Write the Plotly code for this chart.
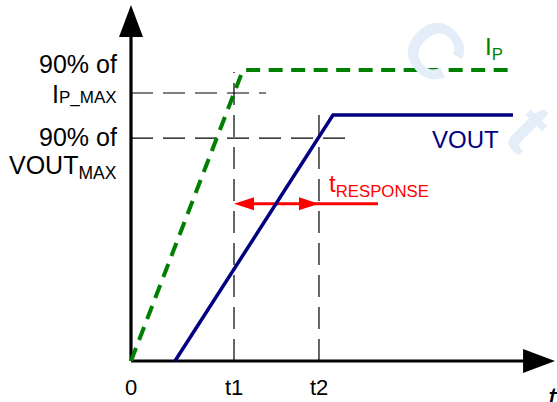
import plotly.graph_objects as go

# ---------------- data ----------------
# time in units of t1, amplitude in % of IP_MAX
ip_t = [0.0, 1.087, 3.709]
ip_v = [0.0, 100.0, 100.0]
vout_t = [0.427, 1.961, 3.709]
vout_v = [0.0, 84.5, 84.5]
t1 = 1.0
t2 = 1.825
ip90 = 92.1
vout90 = 76.6
resp_level = 54.0
resp_tail_end = 2.398
ip90_line_end = 1.311
vout90_line_end = 2.097
t1_line_top = 99.3
t2_line_top = 84.5
x_axis_end = 4.117
y_axis_end = 122.3
tick_vals = [0.0, t1, t2]
tick_text = ["0", "t1", "t2"]

# ---------------- geometry ----------------
W, H = 557, 402
OX, OY = 131, 361          # origin in pixels
SX, SY = 103.0, 2.91       # pixels per data unit
x_range = [-OX / SX, (W - OX) / SX]
y_range = [-(H - OY) / SY, OY / SY]

def dx(px):
    return px / SX

def dy(px):
    return px / SY

FONT = "Liberation Sans, Arial, sans-serif"
GREEN = "#008000"
NAVY = "#000080"
RED = "#ff0000"
WATER = "#e4eef9"

fig = go.Figure()

def line(xs, ys, color, width, dash="solid"):
    fig.add_trace(go.Scatter(x=xs, y=ys, mode="lines",
                             line=dict(color=color, width=width, dash=dash),
                             hoverinfo="skip", showlegend=False))

def tri(xs, ys, color):
    fig.add_trace(go.Scatter(x=xs, y=ys, mode="lines", fill="toself",
                             fillcolor=color, line=dict(color=color, width=0),
                             hoverinfo="skip", showlegend=False))

# dashed guide lines
GD = "22px,10px"
line([0, ip90_line_end], [ip90, ip90], "black", 1.2, GD)
line([0, vout90_line_end], [vout90, vout90], "black", 1.2, GD)
line([t1, t1], [0, t1_line_top], "black", 1.2, GD)
line([t2, t2], [0, t2_line_top], "black", 1.2, GD)

# axes
line([0, x_axis_end - dx(20)], [0, 0], "black", 3.2)
line([0, 0], [0, y_axis_end - dy(20)], "black", 3.2)
tri([x_axis_end, x_axis_end - dx(32), x_axis_end - dx(32), x_axis_end],
    [0, dy(12), -dy(12), 0], "black")
tri([0, -dx(12), dx(12), 0],
    [y_axis_end, y_axis_end - dy(32), y_axis_end - dy(32), y_axis_end], "black")

# response arrow
line([t1 + dx(10), resp_tail_end], [resp_level, resp_level], RED, 3)
tri([t1, t1 + dx(20), t1 + dx(20), t1],
    [resp_level, resp_level + dy(6.5), resp_level - dy(6.5), resp_level], RED)
tri([t2, t2 - dx(20), t2 - dx(20), t2],
    [resp_level, resp_level + dy(6.5), resp_level - dy(6.5), resp_level], RED)

# signals
line(vout_t, vout_v, NAVY, 3.5)
line(ip_t, ip_v, GREEN, 4, "14px,8.5px")

ann = []
def label(text, x, y, size, color="black", xanchor="center", yanchor="middle",
          xshift=0, yshift=0, italic=False, angle=0):
    ann.append(dict(text=text, x=x, y=y, xref="x", yref="y", showarrow=False,
                    xanchor=xanchor, yanchor=yanchor, xshift=xshift, yshift=yshift,
                    textangle=angle,
                    font=dict(family=FONT, size=size, color=color,
                              style="italic" if italic else "normal")))

# faint watermark
label("<b>C</b>", ip_t[-1], ip_v[-1], 78, WATER, xshift=-78, yshift=20, angle=45)
label("<b>t</b>", ip_t[-1], ip_v[-1], 78, WATER, xshift=16, yshift=-58, angle=45)

# y labels
label("90% of", 0, ip90, 25, xanchor="right", xshift=-12, yshift=29)
label("I<span style='font-size:17px'>P_MAX</span>", 0, ip90, 25, xanchor="right", xshift=-12, yshift=-1)
label("90% of", 0, vout90, 25, xanchor="right", xshift=-12, yshift=1)
label("VOUT<sub>MAX</sub>", 0, vout90, 25, xanchor="right", xshift=-12, yshift=-29)

# x tick labels
for v, t in zip(tick_vals, tick_text):
    label(t, v, 0, 22, yanchor="top", yshift=-12)
label("t", x_axis_end, 0, 30, xanchor="left", yanchor="top", xshift=-9, yshift=-18, italic=True)

# series labels
label("I<sub>P</sub>", ip_t[-1], ip_v[-1], 24, GREEN, xanchor="left", yshift=22, xshift=-30)
label("VOUT", vout_t[-1], vout_v[-1], 24, NAVY, xanchor="right", yshift=-24, xshift=-12)
label("t<sub>RESPONSE</sub>", t2, resp_level, 24, RED, xanchor="left", yshift=18, xshift=8)

fig.update_layout(
    width=W, height=H, autosize=False,
    margin=dict(l=0, r=0, t=0, b=0),
    paper_bgcolor="white", plot_bgcolor="white",
    xaxis=dict(range=x_range, visible=False, fixedrange=True),
    yaxis=dict(range=y_range, visible=False, fixedrange=True),
    annotations=ann,
    showlegend=False,
)

fig.write_html("out.html", config={"displayModeBar": False},
               post_script="document.body.style.margin='0';")
